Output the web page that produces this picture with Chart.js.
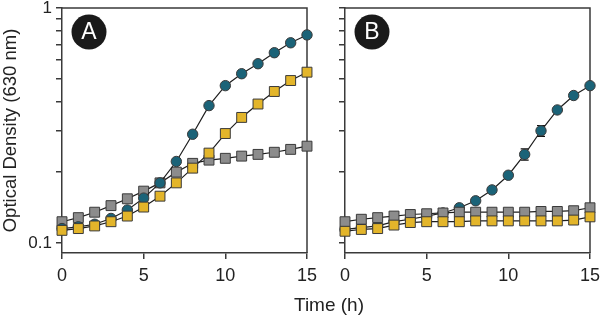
<!DOCTYPE html>
<html>
<head>
<meta charset="utf-8">
<script src="https://cdn.jsdelivr.net/npm/chart.js@4.4.0/dist/chart.umd.min.js"></script>
<style>
body { margin: 0; background: #fff; }
#wrap { position: relative; width: 600px; height: 317px; font-family: "Liberation Sans", Arial, sans-serif; }
canvas { position: absolute; top: 0; }
#x-title { position: absolute; left: 229px; width: 200px; top: 294px; text-align: center; font-size: 19px; line-height: 22px; color: #222; }
</style>
</head>
<body>
<div id="wrap">
  <canvas id="chart-a" width="320" height="317" style="left:0"></canvas>
  <canvas id="chart-b" width="280" height="317" style="left:320px"></canvas>
  <div id="x-title">Time (h)</div>
</div>
<script>
const hours = [0, 1, 2, 3, 4, 5, 6, 7, 8, 9, 10, 11, 12, 13, 14, 15];

// panel A
const tealA = [0.115, 0.117, 0.120, 0.127, 0.138, 0.155, 0.180, 0.222, 0.290, 0.384, 0.467, 0.525, 0.579, 0.645, 0.711, 0.768];
const yellowA = [0.113, 0.115, 0.118, 0.123, 0.130, 0.142, 0.158, 0.180, 0.208, 0.241, 0.292, 0.342, 0.390, 0.441, 0.491, 0.533];
const grayA = [0.123, 0.128, 0.135, 0.144, 0.154, 0.166, 0.180, 0.200, 0.218, 0.225, 0.229, 0.234, 0.238, 0.243, 0.250, 0.258];

// panel B
const tealB = [0.114, 0.116, 0.118, 0.123, 0.126, 0.130, 0.134, 0.141, 0.151, 0.168, 0.194, 0.238, 0.300, 0.368, 0.424, 0.467];
const tealBErr = [0, 0, 0, 0, 0, 0, 0, 0, 0, 0, 0, 0.013, 0.016, 0, 0, 0];
const yellowB = [0.112, 0.114, 0.115, 0.119, 0.122, 0.123, 0.123, 0.123, 0.124, 0.124, 0.124, 0.124, 0.124, 0.124, 0.125, 0.129];
const grayB = [0.123, 0.126, 0.128, 0.130, 0.132, 0.133, 0.134, 0.135, 0.135, 0.135, 0.135, 0.135, 0.136, 0.136, 0.137, 0.141];

const yTicks = [0.1, 0.2, 0.3, 0.4, 0.5, 0.6, 0.7, 0.8, 0.9, 1];
const yLabels = ['0.1', '1'];
const xTicks = [0, 5, 10, 15];

const axisColor = '#3a3a3a';
const font = '"Liberation Sans", Arial, sans-serif';

const teal = '#1b6378';
const yellow = '#e3b52a';
const gray = '#8c8c8c';

// frame, error bars and the round letter badge
const panelPlugin = {
    id: 'panel',
    beforeDatasetsDraw(chart, args, opts) {
        const ctx = chart.ctx;
        const a = chart.chartArea;
        ctx.save();
        ctx.strokeStyle = axisColor;
        ctx.lineWidth = 1.5;
        ctx.beginPath();
        ctx.moveTo(a.left, a.top);
        ctx.lineTo(a.right, a.top);
        ctx.lineTo(a.right, a.bottom);
        ctx.stroke();

        if (opts.errors) {
            const xs = chart.scales.x;
            const ys = chart.scales.y;
            ctx.strokeStyle = '#111';
            ctx.lineWidth = 1.2;
            opts.errors.forEach(function (e, i) {
                if (!e) return;
                const v = opts.values[i];
                const x = xs.getPixelForValue(hours[i]);
                const y1 = ys.getPixelForValue(v + e);
                const y2 = ys.getPixelForValue(v - e);
                ctx.beginPath();
                ctx.moveTo(x, y1); ctx.lineTo(x, y2);
                ctx.moveTo(x - 4, y1); ctx.lineTo(x + 4, y1);
                ctx.moveTo(x - 4, y2); ctx.lineTo(x + 4, y2);
                ctx.stroke();
            });
        }
        ctx.restore();
    },
    afterDraw(chart, args, opts) {
        const ctx = chart.ctx;
        const a = chart.chartArea;
        const cx = a.left + 27;
        const cy = a.top + 24;
        ctx.save();
        ctx.fillStyle = '#1a1a1a';
        ctx.beginPath();
        ctx.arc(cx, cy, 17.5, 0, Math.PI * 2);
        ctx.fill();
        ctx.fillStyle = '#fff';
        ctx.font = '23px ' + font;
        ctx.textAlign = 'center';
        ctx.textBaseline = 'middle';
        ctx.fillText(opts.letter, cx, cy + 1);
        ctx.restore();
    }
};

function series(values, color, shape) {
    return {
        data: values.map(function (v, i) { return { x: hours[i], y: v }; }),
        borderColor: '#1e1e1e',
        borderWidth: 1.2,
        backgroundColor: color,
        pointBackgroundColor: color,
        pointBorderColor: '#3a3a3a',
        pointBorderWidth: 1,
        pointStyle: shape,
        pointRadius: shape === 'rect' ? 7 : 5.2,
        tension: 0,
        clip: false
    };
}

function makeChart(id, datasets, yWidth, padRight, showY, panelOpts) {
    const ctx = document.getElementById(id).getContext('2d');
    return new Chart(ctx, {
        type: 'line',
        data: { datasets: datasets },
        options: {
            responsive: false,
            animation: false,
            layout: { padding: { top: 7, right: padRight, left: 0, bottom: 0 } },
            plugins: {
                legend: { display: false },
                tooltip: { enabled: false },
                panel: panelOpts
            },
            scales: {
                x: {
                    type: 'linear',
                    min: 0,
                    max: 15,
                    afterBuildTicks: function (scale) {
                        scale.ticks = xTicks.map(function (v) { return { value: v }; });
                    },
                    afterFit: function (scale) {
                        scale.height = 64;
                        scale.paddingLeft = 0;
                        scale.paddingRight = 0;
                    },
                    border: { display: true, color: axisColor, width: 1.5 },
                    grid: { drawOnChartArea: false, drawTicks: true, tickLength: 6, color: axisColor, lineWidth: 1.5 },
                    ticks: { padding: 6, color: '#222', font: { family: font, size: 18 } }
                },
                y: {
                    type: 'logarithmic',
                    min: 0.0905,
                    max: 1,
                    afterBuildTicks: function (scale) {
                        scale.ticks = yTicks.map(function (v) { return { value: v }; });
                    },
                    afterFit: function (scale) {
                        scale.width = yWidth;
                        scale.paddingTop = 0;
                        scale.paddingBottom = 0;
                    },
                    border: { display: true, color: axisColor, width: 1.5 },
                    grid: { drawOnChartArea: false, drawTicks: true, tickLength: 6, color: axisColor, lineWidth: 1.5 },
                    ticks: {
                        padding: 4,
                        color: '#222',
                        font: { family: font, size: 17 },
                        callback: function (v) {
                            if (!showY) return '';
                            const s = String(v);
                            return yLabels.indexOf(s) >= 0 ? s : '';
                        }
                    },
                    title: {
                        display: showY,
                        text: 'Optical Density (630 nm)',
                        color: '#222',
                        font: { family: font, size: 18.5 },
                        padding: { top: 0, bottom: 0 }
                    }
                }
            }
        },
        plugins: [panelPlugin]
    });
}

makeChart('chart-a', [
    series(yellowA, yellow, 'rect'),
    series(tealA, teal, 'circle'),
    series(grayA, gray, 'rect')
], 62, 13, true, { letter: 'A' });

makeChart('chart-b', [
    series(yellowB, yellow, 'rect'),
    series(grayB, gray, 'rect'),
    series(tealB, teal, 'circle')
], 25, 10, false, { letter: 'B', errors: tealBErr, values: tealB });
</script>
</body>
</html>
